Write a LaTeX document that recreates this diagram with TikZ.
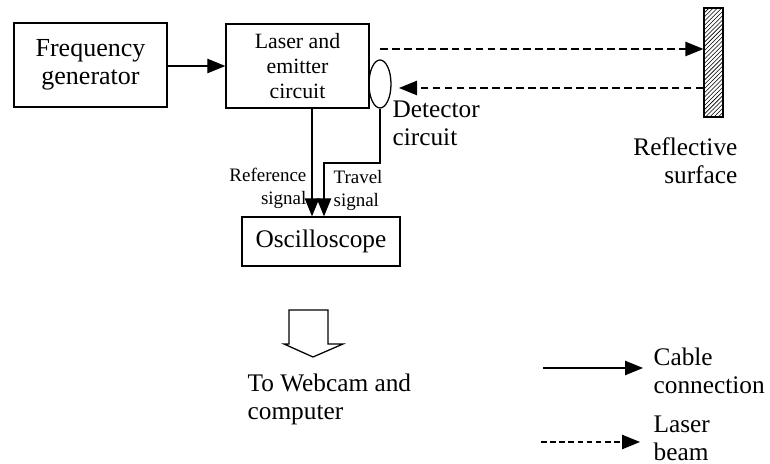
\documentclass[tikz,border=0pt]{standalone}
\usepackage{fontspec}
\setmainfont{Liberation Serif}
\usetikzlibrary{arrows.meta, positioning, shapes.geometric, patterns}

\begin{document}
\begin{tikzpicture}[x=0.025cm, y=-0.025cm, line width=0.9pt,
      box/.style={draw, inner sep=0pt, align=center},
      cable/.style={-{Triangle[length=0.45cm, width=0.36cm]}},
      beam/.style={cable, dash pattern=on 5.5pt off 3pt},
      bigtext/.style={font=\fontsize{18}{20}\selectfont},
      smalltext/.style={font=\fontsize{13.5}{16}\selectfont}]
   \useasboundingbox (0,0) rectangle (770,464);
   % Boxes
   \node[box, font=\fontsize{18.5}{20}\selectfont, minimum width=3.825cm, minimum height=2.1cm] (freqgen) at (90.5,65) {Frequency\\generator};
   \node[box, font=\fontsize{15.5}{18}\selectfont, minimum width=3.575cm, minimum height=2.1cm] (laser) at (297.5,66) {Laser and\\emitter\\circuit};
   \node[box, bigtext, minimum width=3.95cm, minimum height=1.225cm] (scope) at (321,241.5) {Oscilloscope};
   % Detector and mirror
   \node[draw, ellipse, minimum width=0.55cm, minimum height=1.2cm, inner sep=0pt] (detector) at (380,84) {};
   \node[draw, pattern=north east lines, minimum width=0.475cm, minimum height=2.725cm, inner sep=0pt] (mirror) at (713.5,62.5) {};
   \node[bigtext, anchor=north west, align=left, inner sep=0pt] (detlabel) at (392,100) {Detector\\circuit};
   \node[bigtext, anchor=north east, align=right, inner sep=0pt] (mirrorlabel) at (738,137) {Reflective\\surface};
   % Cables
   \draw[cable] (freqgen.east |- laser.west) -- (laser);
   \coordinate (refx) at (312,0);
   \coordinate (travx) at (324,163);
   \draw[cable] (laser.south -| refx) -- (scope.north -| refx);
   \draw[cable] (detector.south) |- (travx) -- (scope.north -| travx);
   \node[smalltext, anchor=north east, align=right, inner sep=0pt] (reflabel) at (307,168) {Reference\\signal};
   \node[smalltext, anchor=north west, align=left, inner sep=0pt] (travlabel) at (333,170) {Travel\\signal};
   % Laser beam out and back
   \coordinate (beamout) at (380,49);
   \coordinate (beamin) at (399,88);
   \draw[beam] (beamout) -- (beamout -| mirror.west);
   \draw[beam] (beamin -| mirror.west) -- (beamin);
   % Output arrow
   \draw (289,310) -- (328,310) -- (328,344) -- (343,344) -- (313,357) -- (284,344) -- (289,344) -- cycle;
   \node[bigtext, anchor=north west, align=left, inner sep=0pt] (webcam) at (247,373) {To Webcam and\\computer};
   % Legend
   \coordinate (cablestart) at (543,368);
   \coordinate (cableend) at (643,368);
   \draw[cable] (cablestart) -- (cableend);
   \node[bigtext, anchor=north west, align=left, inner sep=0pt] (cablelabel) at (653,347) {Cable\\connection};
   \coordinate (beamstart) at (541,442);
   \coordinate (beamend) at (640,442);
   \draw[cable, dash pattern=on 4pt off 2.5pt] (beamstart) -- (beamend);
   \node[bigtext, anchor=north west, align=left, inner sep=0pt] (beamlabel) at (653,415) {Laser\\beam};
\end{tikzpicture}
\end{document}
